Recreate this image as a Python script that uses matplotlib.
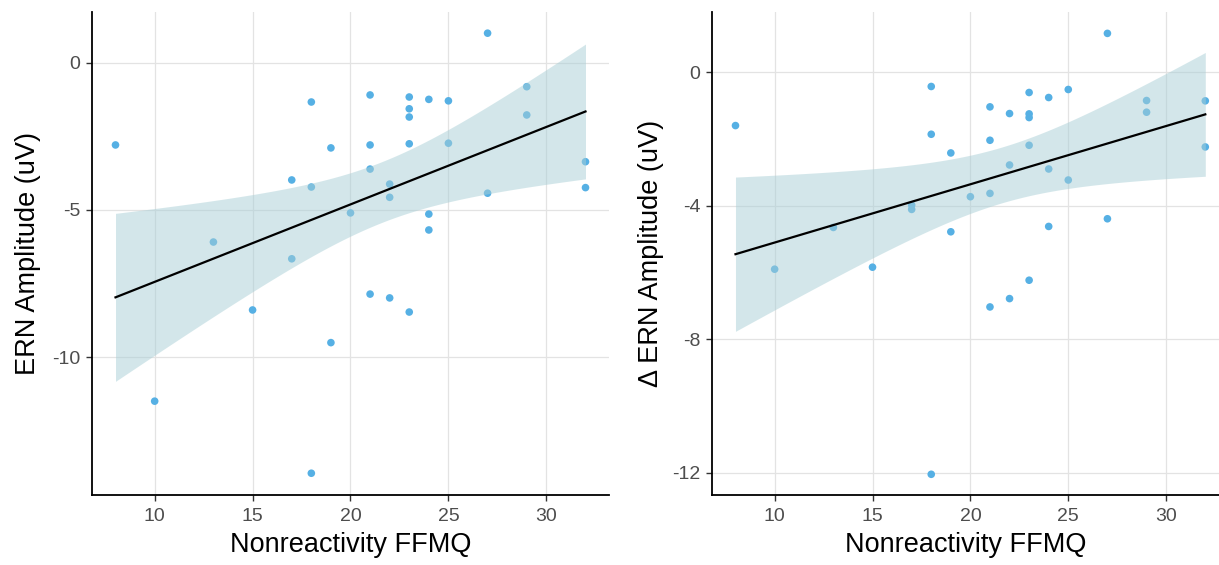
import numpy as np
import matplotlib
matplotlib.use("Agg")
import matplotlib.pyplot as plt

plt.rcParams['font.family'] = ['Liberation Sans', 'DejaVu Sans']

# ---- data ----
ffmq = [8, 10, 13, 15, 17, 17, 18, 18, 18, 19, 19, 20,
        21, 21, 21, 21, 22, 22, 22, 23, 23, 23, 23, 23,
        24, 24, 24, 25, 25, 27, 27, 29, 29, 32, 32]

ern = [-2.79, -11.5, -6.09, -8.40, -3.98, -6.66, -1.33, -4.22, -13.95, -2.89, -9.51, -5.10,
       -1.09, -2.79, -3.61, -7.86, -4.12, -4.57, -7.99, -1.16, -1.56, -1.84, -2.75, -8.47,
       -1.24, -5.14, -5.68, -1.29, -2.73, 1.01, -4.43, -0.81, -1.77, -3.36, -4.24]

delta_ern = [-1.60, -5.90, -4.65, -5.84, -3.98, -4.11, -0.43, -1.86, -12.04, -2.42, -4.78, -3.73,
             -1.04, -2.04, -3.63, -7.03, -1.24, -2.78, -6.78, -0.61, -1.25, -1.36, -2.19, -6.23,
             -0.76, -2.90, -4.62, -0.52, -3.23, 1.16, -4.39, -0.85, -1.20, -0.86, -2.24]

x_ticks = [10, 15, 20, 25, 30]
left_yticks = [0, -5, -10]
right_yticks = [0, -4, -8, -12]

x_label = "Nonreactivity FFMQ"
left_ylabel = "ERN Amplitude (uV)"
right_ylabel = "\u0394 ERN Amplitude (uV)"

T_CRIT = 2.0345  # t(0.975, df=33)

POINT_COLOR = "#56B0E4"
BAND_COLOR = "#a9cfd6"
TICK_COLOR = "#4d4d4d"

W, H = 1219, 565
fig = plt.figure(figsize=(W / 100, H / 100), dpi=100)


def make_axes(px0, px1, py0, py1):
    return fig.add_axes([px0 / W, 1 - py1 / H, (px1 - px0) / W, (py1 - py0) / H])


def panel(ax, x, y, yticks, ylabel, xlim, ylim, ylabelpad):
    x = np.asarray(x, float)
    y = np.asarray(y, float)
    ax.scatter(x, y, s=30, color=POINT_COLOR, edgecolors='none', zorder=2)
    b, a = np.polyfit(x, y, 1)
    n = len(x)
    resid = y - (a + b * x)
    mse = np.sum(resid ** 2) / (n - 2)
    sxx = np.sum((x - x.mean()) ** 2)
    xs = np.linspace(x.min(), x.max(), 200)
    ys = a + b * xs
    se = np.sqrt(mse * (1 / n + (xs - x.mean()) ** 2 / sxx))
    ax.fill_between(xs, ys - T_CRIT * se, ys + T_CRIT * se, color=BAND_COLOR,
                    alpha=0.5, linewidth=0, zorder=3)
    ax.plot(xs, ys, color='black', linewidth=1.6, zorder=4)

    ax.set_xlim(*xlim)
    ax.set_ylim(*ylim)
    ax.set_xticks(x_ticks)
    ax.set_yticks(yticks)
    ax.set_yticklabels([str(t) for t in yticks])
    ax.grid(True, color='#e3e3e3', linewidth=0.9, zorder=0)
    ax.set_axisbelow(True)
    for s in ['top', 'right']:
        ax.spines[s].set_visible(False)
    for s in ['left', 'bottom']:
        ax.spines[s].set_linewidth(1.3)
        ax.spines[s].set_color('black')
    ax.tick_params(axis='both', length=4.5, width=1.0, color='#333333',
                   labelcolor=TICK_COLOR, labelsize=14)
    ax.tick_params(axis='x', pad=5)
    ax.tick_params(axis='y', pad=4)
    ax.set_xlabel(x_label, fontsize=19.5, color='black', labelpad=5)
    ax.set_ylabel(ylabel, fontsize=19.5, color='black', labelpad=ylabelpad)


ax1 = make_axes(92, 609, 12, 495)
panel(ax1, ffmq, ern, left_yticks, left_ylabel, (6.8, 33.2), (-14.69, 1.73), 8)

ax2 = make_axes(712, 1219, 12, 495)
panel(ax2, ffmq, delta_ern, right_yticks, right_ylabel, (6.8, 32.7), (-12.66, 1.80), 6)

fig.savefig("out.png", dpi=100)
